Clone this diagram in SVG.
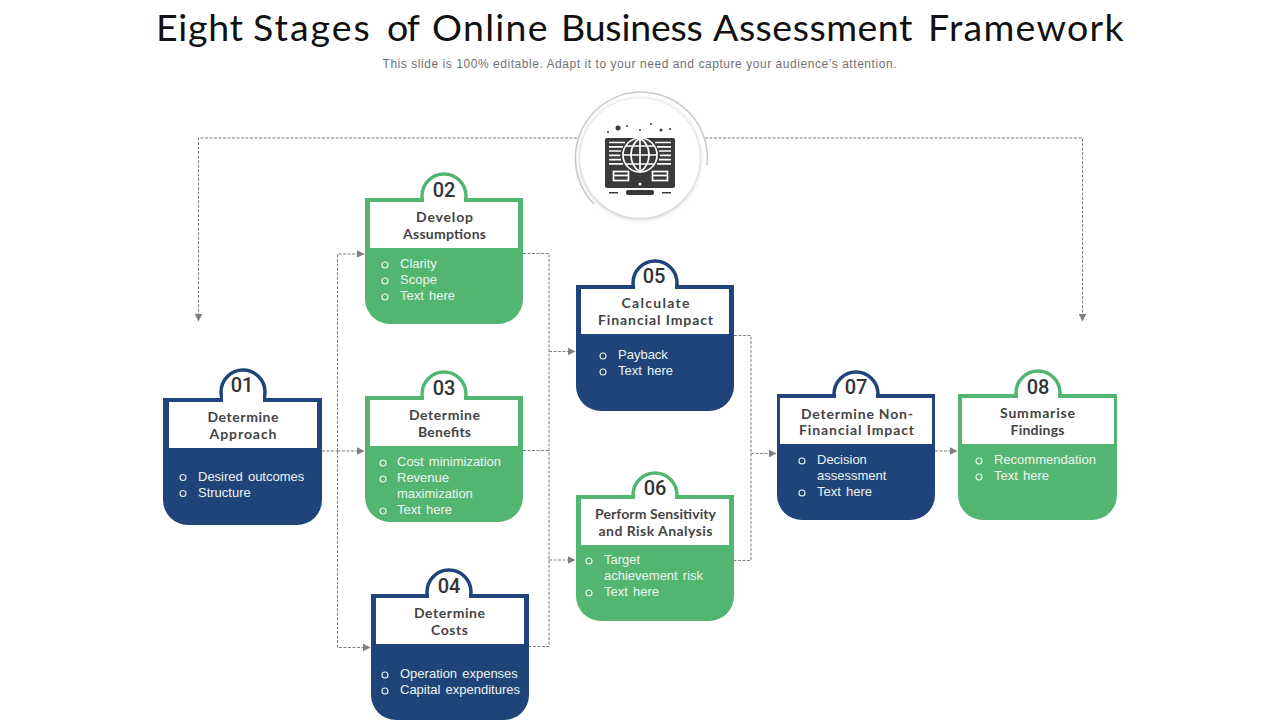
<svg xmlns="http://www.w3.org/2000/svg" width="1280" height="720" viewBox="0 0 1280 720">
<style>
text{font-family:"Liberation Sans",Arial,sans-serif}
.title{font-family:"Lato","Liberation Sans",sans-serif;font-size:37.5px;font-weight:400;fill:#111;letter-spacing:1.3px}
.sub{font-size:12px;fill:#717171;text-anchor:middle}
.num{font-family:"Roboto","Liberation Sans",sans-serif;font-size:20px;font-weight:500;fill:#333;text-anchor:middle}
.head{font-family:"Lato","Liberation Sans",sans-serif;font-size:14px;font-weight:700;fill:#444;text-anchor:middle}
.item{font-size:13px;fill:#eef4f1;word-spacing:1.5px}
.dot{fill:none;stroke:#eef4f1;stroke-width:1.1}
.conn{fill:none;stroke:#7f7f7f;stroke-width:1;stroke-dasharray:3 1.5}
.arrow{fill:none;stroke:#7f7f7f;stroke-width:1;stroke-dasharray:3 1.5;marker-end:url(#tip)}
.navy{fill:#1f4479}
.green{fill:#53b670}
.tabn{fill:#fff;stroke:#1f4479;stroke-width:3.5}
.tabg{fill:#fff;stroke:#53b670;stroke-width:3.5}
.ic{fill:#3a3a3a}
.il{fill:none;stroke:#fff;stroke-width:1.7}
</style>
<defs>
<marker id="tip" viewBox="0 0 8 8" refX="7.5" refY="4" markerWidth="8" markerHeight="8" markerUnits="userSpaceOnUse" orient="auto"><path d="M0 0L8 4L0 8Z" fill="#7f7f7f"/></marker>
<path id="body" d="M0 0H158V101A25 25 0 0 1 133 126H25A25 25 0 0 1 0 101Z"/>
<filter id="sh" x="-20%" y="-20%" width="140%" height="140%"><feDropShadow dx="0" dy="1" stdDeviation="2.5" flood-color="#000" flood-opacity=".3"/></filter>
</defs>
<rect width="1280" height="720" fill="#fff"/>
<text class="title" y="41"><tspan x="156" letter-spacing="0.7">Eight</tspan> <tspan x="253" letter-spacing="2">Stages</tspan> <tspan x="387" letter-spacing="-1">of</tspan> <tspan x="432">Online</tspan> <tspan x="561" letter-spacing="-0.2">Business</tspan> <tspan x="713" letter-spacing="0.5">Assessment</tspan> <tspan x="928">Framework</tspan></text>
<text class="sub" x="639.500" y="68" textLength="514" lengthAdjust="spacing">This slide is 100% editable. Adapt it to your need and capture your audience’s attention.</text>

<g id="connectors">
<path class="arrow" d="M577 138H198.500V321"/>
<path class="arrow" d="M705 138H1082.500V321"/>
<path class="conn" d="M322 451H337.500"/>
<path class="arrow" d="M337.500 451H364"/>
<path class="arrow" d="M337.500 451V254H364"/>
<path class="arrow" d="M337.500 451V647.500H370"/>
<path class="conn" d="M523 253.500H549V646.500H529"/>
<path class="conn" d="M523 450.500H549"/>
<path class="arrow" d="M549 351.500H575"/>
<path class="arrow" d="M549 560H575"/>
<path class="conn" d="M734 335.500H751V560.500H734"/>
<path class="arrow" d="M751 453.500H776"/>
<path class="arrow" d="M935 451H957"/>
</g>

<g id="hub">
<path d="M594 204A66 66 0 1 1 707 165" fill="none" stroke="#c9c9c9" stroke-width="1.500"/>
<circle cx="640" cy="158" r="59.500" fill="#fff" filter="url(#sh)"/>
<g id="icon">
<circle cx="618" cy="128" r="2.500" class="ic"/><circle cx="608" cy="132" r="1" class="ic"/><circle cx="627" cy="126" r="1" class="ic"/><circle cx="640" cy="130" r="1" class="ic"/><circle cx="651" cy="124" r="1" class="ic"/><circle cx="661" cy="130" r="1.500" class="ic"/><circle cx="670" cy="129" r="1" class="ic"/>
<rect x="605" y="138" width="70" height="50" rx="2" class="ic"/>
<path class="il" d="M609 142.500H625M609 146.800H623M609 151H621M609 155.300H620M609 159.600H621M609 163.800H623M655 142.500H671M657 146.800H671M659 151H671M660 155.300H671M659 159.600H671M657 163.800H671"/>
<circle cx="640" cy="155" r="17" class="ic" stroke="#fff" stroke-width="1.700"/>
<path class="il" d="M640 138V172M623 155H657M626 146H654M626 164H654M640 138C628 146 628 164 640 172M640 138C652 146 652 164 640 172"/>
<rect x="613.500" y="171.500" width="15" height="9" class="il"/><path class="il" d="M613.500 175.500H628.500"/>
<rect x="652.500" y="171.500" width="15" height="9" class="il"/><path class="il" d="M652.500 175.500H667.500"/>
<circle cx="640" cy="184" r="1.500" fill="#fff"/>
<rect x="626" y="190" width="28" height="5" rx="2" class="ic"/><rect x="609" y="192" width="9" height="1.500" class="ic"/><rect x="662" y="192" width="9" height="1.500" class="ic"/>
</g>
</g>

<g id="node-01">
<circle cx="243" cy="392" r="22" class="tabn"/>
<path class="navy" d="M163 398H322V500A25 25 0 0 1 297 525H188A25 25 0 0 1 163 500Z"/>
<rect x="169" y="402" width="148" height="46" fill="#fff"/>
<rect x="223" y="395" width="40" height="8" fill="#fff"/>
<text class="num" x="242" y="392">01</text>
<text class="head" x="243" y="422" textLength="71">Determine</text><text class="head" x="243" y="439" textLength="67">Approach</text>
<circle class="dot" cx="183" cy="477.500" r="3"/><text class="item" x="198" y="481">Desired outcomes</text>
<circle class="dot" cx="183" cy="493.500" r="3"/><text class="item" x="198" y="497">Structure</text>
</g>

<g id="node-02">
<circle cx="444" cy="196" r="22" class="tabg"/>
<use href="#body" x="365" y="198" class="green"/>
<rect x="370" y="202" width="148" height="46" fill="#fff"/>
<rect x="424" y="193" width="40" height="10" fill="#fff"/>
<text class="num" x="444" y="197">02</text>
<text class="head" x="444.500" y="222" textLength="57">Develop</text><text class="head" x="444.500" y="239" textLength="83">Assumptions</text>
<circle class="dot" cx="385" cy="265" r="3"/><text class="item" x="400" y="268">Clarity</text>
<circle class="dot" cx="385" cy="281" r="3"/><text class="item" x="400" y="284">Scope</text>
<circle class="dot" cx="385" cy="297" r="3"/><text class="item" x="400" y="300">Text here</text>
</g>

<g id="node-03">
<circle cx="444" cy="394" r="22" class="tabg"/>
<use href="#body" x="365" y="396" class="green"/>
<rect x="370" y="400" width="148" height="46" fill="#fff"/>
<rect x="424" y="391" width="40" height="10" fill="#fff"/>
<text class="num" x="444" y="395">03</text>
<text class="head" x="444.500" y="420" textLength="71">Determine</text><text class="head" x="444.500" y="437" textLength="53">Benefits</text>
<circle class="dot" cx="383" cy="463" r="3"/><text class="item" x="397" y="466">Cost minimization</text>
<circle class="dot" cx="383" cy="479" r="3"/><text class="item" x="397" y="482">Revenue</text>
<text class="item" x="397" y="498">maximization</text>
<circle class="dot" cx="383" cy="511" r="3"/><text class="item" x="397" y="514">Text here</text>
</g>

<g id="node-04">
<circle cx="449" cy="592" r="22" class="tabn"/>
<use href="#body" x="371" y="594" class="navy"/>
<rect x="376" y="598" width="148" height="46" fill="#fff"/>
<rect x="429" y="589" width="40" height="10" fill="#fff"/>
<text class="num" x="449" y="593">04</text>
<text class="head" x="449.500" y="618" textLength="71">Determine</text><text class="head" x="449.500" y="635" textLength="37">Costs</text>
<circle class="dot" cx="385" cy="675" r="3"/><text class="item" x="400" y="678">Operation expenses</text>
<circle class="dot" cx="385" cy="691" r="3"/><text class="item" x="400" y="694">Capital expenditures</text>
</g>

<g id="node-05">
<circle cx="655" cy="283" r="22" class="tabn"/>
<use href="#body" x="576" y="285" class="navy"/>
<rect x="581" y="289" width="148" height="45" fill="#fff"/>
<rect x="635" y="280" width="40" height="10" fill="#fff"/>
<text class="num" x="654" y="283">05</text>
<text class="head" x="655.500" y="308" textLength="68">Calculate</text><text class="head" x="655.500" y="325" textLength="115">Financial Impact</text>
<circle class="dot" cx="603" cy="356" r="3"/><text class="item" x="618" y="359">Payback</text>
<circle class="dot" cx="603" cy="372" r="3"/><text class="item" x="618" y="375">Text here</text>
</g>

<g id="node-06">
<circle cx="655" cy="495" r="22" class="tabg"/>
<use href="#body" x="576" y="495" class="green"/>
<rect x="581" y="499" width="148" height="46" fill="#fff"/>
<rect x="635" y="492" width="40" height="8" fill="#fff"/>
<text class="num" x="655" y="495">06</text>
<text class="head" x="655.500" y="519" textLength="121">Perform Sensitivity</text><text class="head" x="655.500" y="536" textLength="114">and Risk Analysis</text>
<circle class="dot" cx="589" cy="561" r="3"/><text class="item" x="604" y="564">Target</text>
<text class="item" x="604" y="580">achievement risk</text>
<circle class="dot" cx="589" cy="593" r="3"/><text class="item" x="604" y="596">Text here</text>
</g>

<g id="node-07">
<circle cx="856" cy="394" r="22" class="tabn"/>
<use href="#body" x="777" y="394" class="navy"/>
<rect x="780" y="398" width="152" height="46" fill="#fff"/>
<rect x="836" y="391" width="40" height="8" fill="#fff"/>
<text class="num" x="856" y="394">07</text>
<text class="head" x="857" y="419" textLength="112">Determine Non-</text><text class="head" x="856.500" y="435" textLength="115">Financial Impact</text>
<circle class="dot" cx="802" cy="461" r="3"/><text class="item" x="817" y="464">Decision</text>
<text class="item" x="817" y="480">assessment</text>
<circle class="dot" cx="802" cy="493" r="3"/><text class="item" x="817" y="496">Text here</text>
</g>

<g id="node-08">
<circle cx="1038" cy="393" r="22" class="tabg"/>
<path class="green" d="M958 394H1117V495A25 25 0 0 1 1092 520H983A25 25 0 0 1 958 495Z"/>
<rect x="962" y="398" width="152" height="46" fill="#fff"/>
<rect x="1018" y="390" width="40" height="9" fill="#fff"/>
<text class="num" x="1038" y="394">08</text>
<text class="head" x="1037.500" y="418" textLength="75">Summarise</text><text class="head" x="1037.500" y="435" textLength="54">Findings</text>
<circle class="dot" cx="979" cy="461" r="3"/><text class="item" x="994" y="464">Recommendation</text>
<circle class="dot" cx="979" cy="477" r="3"/><text class="item" x="994" y="480">Text here</text>
</g>
</svg>
